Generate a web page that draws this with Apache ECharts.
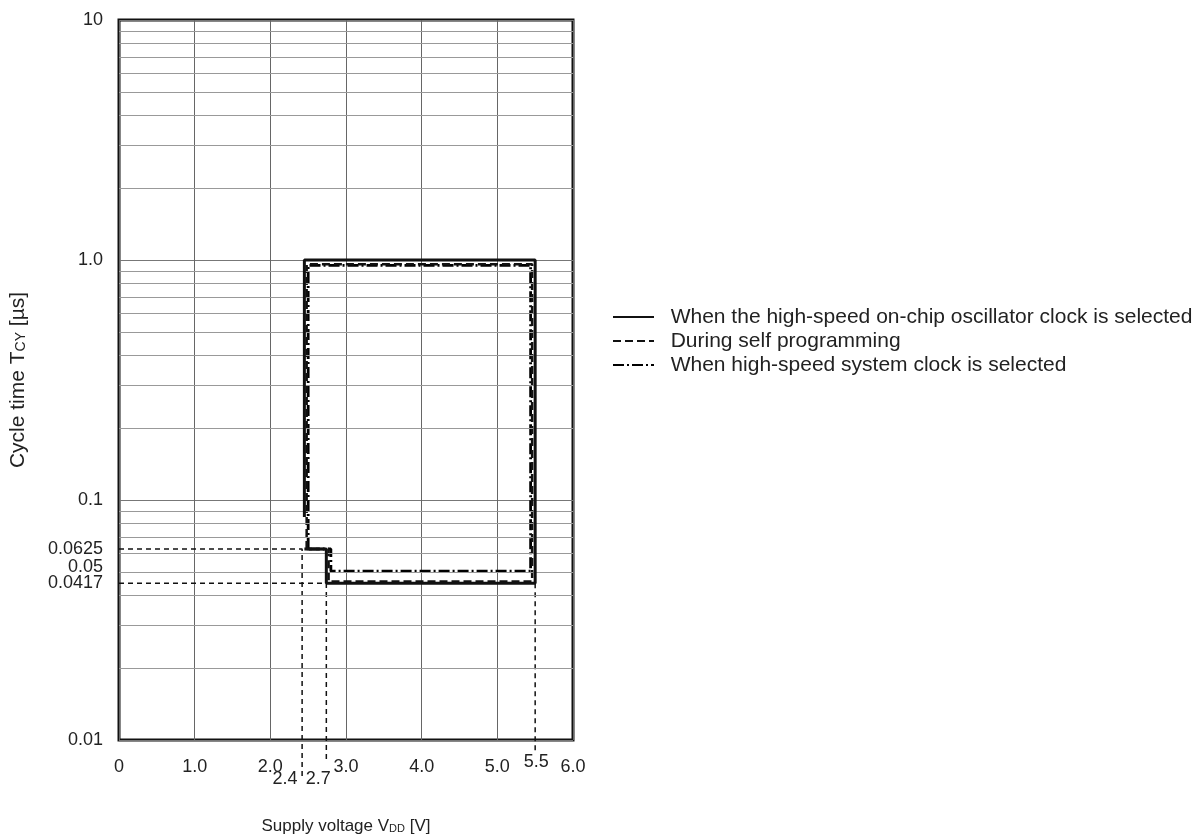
<!DOCTYPE html>
<html>
<head>
<meta charset="utf-8">
<script src="https://cdn.jsdelivr.net/npm/echarts@6/dist/echarts.min.js"></script>
<style>
html,body{margin:0;padding:0;background:#fff;}
#chart{width:1202px;height:837px;}
</style>
</head>
<body>
<div id="chart"></div>
<script>
// ---- data ----
const seriesNames = [
  'When the high-speed on-chip oscillator clock is selected',
  'During self programming',
  'When high-speed system clock is selected'
];
// solid: high-speed on-chip oscillator
const solidPath = [[2.45,0.085],[2.45,1.0],[5.5,1.0],[5.5,0.045],[2.74,0.045],[2.74,0.0625],[2.45,0.0625]];
// dashed: self programming
const dashedPath = [[2.48,0.0625],[2.48,0.96],[5.46,0.96],[5.46,0.0458],[2.77,0.0458],[2.77,0.0625],[2.48,0.0625]];
// dash-dot: high-speed system clock
const dashDotPath = [[2.5,0.0625],[2.5,0.95],[5.44,0.95],[5.44,0.0505],[2.8,0.0505],[2.8,0.0625],[2.5,0.0625]];
// thin dashed reference lines
const ref24 = [[0,0.0625],[2.42,0.0625],[2.42,0.0070]];
const ref27 = [[0,0.045],[2.74,0.045],[2.74,0.0081]];
const ref55 = [[5.5,0.045],[5.5,0.0089]];
// tick labels
const xTickLabels = ['0','1.0','2.0','3.0','4.0','5.0','6.0'];
const yTickLabels = ['0.01','0.1','1.0','10'];
// extra annotated values (position on axis, label text)
const xExtraLabels = [[2.42,0.01,'2.4'],[2.74,0.01,'2.7'],[5.5,0.01,'5.5']];
const yExtraLabels = [[0,0.0625,'0.0625'],[0,0.05,'0.05'],[0,0.045,'0.0417']];
// minor horizontal grid values
const minorGrid = [0.02,0.03,0.04,0.05,0.06,0.07,0.08,0.09,0.2,0.3,0.4,0.5,0.6,0.7,0.8,0.9,2,3,4,5,6,7,8,9];

const FONT = '"Liberation Sans", Arial, sans-serif';
const chart = echarts.init(document.getElementById('chart'));

const refStyle = {color:'#111', width:1.5, type:[5,4]};
function refSeries(d){
  return {type:'line', data:d, symbol:'none', clip:false, silent:true, z:2,
          lineStyle:refStyle, animation:false};
}

const xLabelOffsets = {'2.4':[-17,39], '2.7':[-8,39], '5.5':[1,22]};
const yLabelOffsets = {'0.0625':[0,0], '0.05':[0,-5], '0.0417':[0,0]};

chart.setOption({
  animation:false,
  backgroundColor:'#fff',
  textStyle:{fontFamily:FONT},
  grid:{left:119, right:629, top:20, bottom:97, show:true, borderColor:'#111', borderWidth:3, outerBoundsMode:'none'},
  legend:{
    data:seriesNames, orient:'vertical', left:612, top:305, padding:0,
    itemWidth:41, itemHeight:14, itemGap:0,
    itemStyle:{opacity:0},
    lineStyle:{width:2},
    formatter:n=>'  '+n,
    textStyle:{fontFamily:FONT, fontSize:21, color:'#222', lineHeight:24},
    selectedMode:false
  },
  xAxis:{
    type:'value', min:0, max:6, interval:1,
    axisLine:{show:false}, axisTick:{show:false},
    splitLine:{show:true, lineStyle:{color:'#666', width:1}},
    axisLabel:{fontFamily:FONT, fontSize:18, color:'#222', margin:18,
      formatter:v=>xTickLabels[Math.round(v)]},
    name:'Supply voltage V{sub|DD} [V]',
    nameLocation:'middle', nameGap:78,
    nameTextStyle:{fontFamily:FONT, fontSize:17, color:'#222',
      rich:{sub:{fontFamily:FONT, fontSize:11, color:'#222', padding:[4,0,0,0]}}}
  },
  yAxis:{
    type:'log', logBase:10, min:0.01, max:10,
    axisLine:{show:false}, axisTick:{show:false},
    splitLine:{show:true, lineStyle:{color:'#777', width:1}},
    axisLabel:{fontFamily:FONT, fontSize:18, color:'#222', margin:16,
      formatter:v=>yTickLabels[Math.round(Math.log10(v))+2]},
    name:'Cycle time T{sub|CY} [µs]',
    nameLocation:'middle', nameGap:90, nameRotate:90,
    nameTextStyle:{fontFamily:FONT, fontSize:21, color:'#222',
      rich:{sub:{fontFamily:FONT, fontSize:14, color:'#222', padding:[5,0,0,0]}}}
  },
  series:[
    {
      name:'minorGrid', type:'line', data:[], silent:true, z:1,
      markLine:{silent:true, symbol:'none', label:{show:false}, animation:false,
        lineStyle:{color:'#999', width:1, type:'solid'},
        data:minorGrid.map(v=>({yAxis:v}))}
    },
    refSeries(ref24), refSeries(ref27), refSeries(ref55),
    {name:seriesNames[2], type:'line', data:dashDotPath, symbol:'none', z:3,
     itemStyle:{color:'#111'},
     lineStyle:{color:'#000', width:2.8, type:[11,3,2,3]}},
    {name:seriesNames[1], type:'line', data:dashedPath, symbol:'none', z:4,
     itemStyle:{color:'#111'},
     lineStyle:{color:'#111', width:2.5, type:[8,4]}},
    {name:seriesNames[0], type:'line', data:solidPath, symbol:'none', z:5,
     itemStyle:{color:'#111'},
     lineStyle:{color:'#111', width:3, type:'solid'}},
    {
      name:'xExtra', type:'scatter', symbolSize:0, silent:true, clip:false, z:6,
      itemStyle:{color:'#000', opacity:1},
      data:xExtraLabels.map(d=>({value:d, label:{offset:xLabelOffsets[d[2]]}})),
      label:{show:true, position:'inside', fontFamily:FONT, fontSize:18, color:'#222',
        opacity:1, textBorderWidth:0, formatter:p=>p.value[2]}
    },
    {
      name:'yExtra', type:'scatter', symbolSize:0, silent:true, clip:false, z:6,
      itemStyle:{color:'#000', opacity:1},
      data:yExtraLabels.map(d=>({value:d, label:{offset:yLabelOffsets[d[2]]}})),
      label:{show:true, position:'left', distance:16, fontFamily:FONT, fontSize:18, color:'#222',
        opacity:1, textBorderWidth:0, formatter:p=>p.value[2]}
    }
  ]
});
</script>
</body>
</html>
